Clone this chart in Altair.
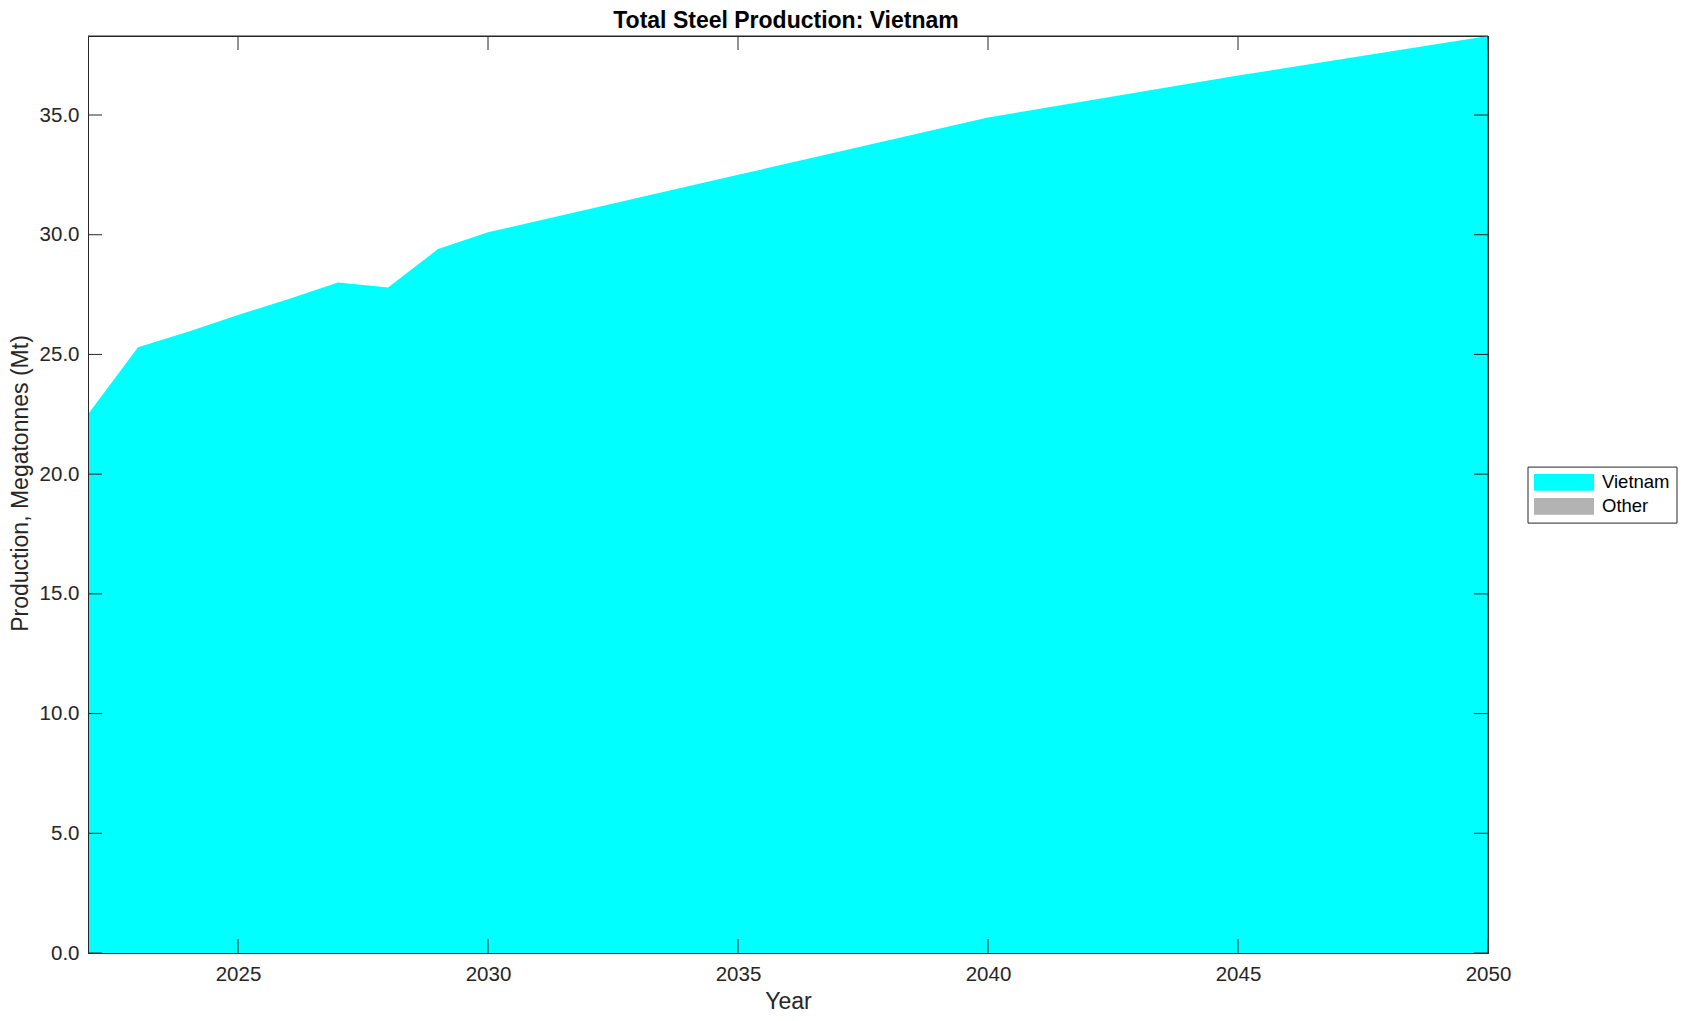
import altair as alt
import pandas as pd

# ---- data ----
years = [2022, 2023, 2024, 2025, 2026, 2027, 2028, 2029, 2030, 2035, 2040, 2045, 2050]
vietnam = [22.5, 25.3, 25.95, 26.65, 27.3, 28.0, 27.8, 29.4, 30.1, 32.5, 34.9, 36.65, 38.3]
other = [0.0] * len(years)

series = ["Vietnam", "Other"]
colors = ["#00FFFF", "#B3B3B3"]

x_ticks = [2025, 2030, 2035, 2040, 2045, 2050]
y_ticks = [0, 5, 10, 15, 20, 25, 30, 35]

x_domain = [2022, 2050]
y_domain = [0, 38.3]

chart_title = ["Total Steel Production: Vietnam"]

W, H = 1400, 917
TICK = 14
FONT = "Liberation Sans"
AX = "#262626"

rows = []
for i, y in enumerate(years):
    rows.append({"year": y, "series": "Vietnam", "value": vietnam[i], "ord": 0})
    rows.append({"year": y, "series": "Other", "value": other[i], "ord": 1})
df = pd.DataFrame(rows)
xt = pd.DataFrame({"year": x_ticks})
yt = pd.DataFrame({"v": y_ticks})
tt = pd.DataFrame({"t": chart_title})

xscale = alt.Scale(domain=x_domain, nice=False, zero=False)
yscale = alt.Scale(domain=y_domain, nice=False, zero=True)

x_axis = alt.Axis(
    values=x_ticks, format="d", ticks=False, tickSize=0, grid=False,
    domain=True, domainColor=AX, domainWidth=1, zindex=1,
    labelFontSize=20.5, labelColor=AX, labelFont=FONT, labelPadding=11,
    labelFlush=False, labelOverlap=False,
    title="Year", titleFontSize=23, titleFontWeight="normal", titleColor=AX,
    titleFont=FONT, titleY=55, titleBaseline="alphabetic",
)
y_axis = alt.Axis(
    values=y_ticks, format=".1f", ticks=False, tickSize=0, grid=False,
    domain=True, domainColor=AX, domainWidth=1, zindex=1,
    labelFontSize=20.5, labelColor=AX, labelFont=FONT, labelPadding=9,
    labelFlush=False, labelOverlap=False,
    title="Production, Megatonnes (Mt)", titleFontSize=23, titleFontWeight="normal",
    titleColor=AX, titleFont=FONT, titleX=-60.5, titleY=447, titleAngle=270,
    titleBaseline="alphabetic",
)

area = alt.Chart(df).mark_area(interpolate="linear", opacity=1).encode(
    x=alt.X("year:Q", scale=xscale, axis=x_axis),
    y=alt.Y("value:Q", stack="zero", scale=yscale, axis=y_axis),
    color=alt.Color(
        "series:N",
        scale=alt.Scale(domain=series, range=colors),
        title=None,
        legend=alt.Legend(
            orient="none", legendX=1439.5, legendY=430.6,
            symbolType="M-1,-0.28L1,-0.28L1,0.28L-1,0.28Z",
            symbolSize=3600, symbolStrokeWidth=0, symbolOpacity=1,
            clipHeight=18.5, rowPadding=5, labelOffset=8,
            labelFontSize=18.5, labelFont=FONT, labelColor="black",
            strokeColor=AX, fillColor="white", padding=6.5,
        ),
    ),
    order=alt.Order("ord:Q"),
)

tick_style = dict(color=AX, strokeWidth=1)
xb = alt.Chart(xt).mark_rule(**tick_style).encode(
    x=alt.X("year:Q", scale=xscale, axis=x_axis), y=alt.value(H), y2=alt.value(H - TICK))
xtop = alt.Chart(xt).mark_rule(**tick_style).encode(
    x=alt.X("year:Q", scale=xscale, axis=x_axis), y=alt.value(0), y2=alt.value(TICK))
yl = alt.Chart(yt).mark_rule(**tick_style).encode(
    y=alt.Y("v:Q", scale=yscale, axis=y_axis), x=alt.value(0), x2=alt.value(TICK))
yr = alt.Chart(yt).mark_rule(**tick_style).encode(
    y=alt.Y("v:Q", scale=yscale, axis=y_axis), x=alt.value(W - TICK), x2=alt.value(W))
frame_top = alt.Chart(tt).mark_rule(**tick_style).encode(
    x=alt.value(0), x2=alt.value(W), y=alt.value(0))
frame_right = alt.Chart(tt).mark_rule(**tick_style).encode(
    x=alt.value(W), y=alt.value(0), y2=alt.value(H))

title_text = alt.Chart(tt).mark_text(
    font=FONT, fontSize=23, fontWeight="bold", color="black",
    align="center", baseline="alphabetic",
).encode(x=alt.value(W / 2 - 2), y=alt.value(-8), text="t:N")

chart = alt.layer(area, xb, xtop, yl, yr, frame_top, frame_right, title_text).properties(
    width=W, height=H,
    autosize=alt.AutoSizeParams(type="none"),
    padding={"left": 80, "top": 28, "right": 196, "bottom": 60},
).configure(font=FONT).configure_view(stroke=AX, strokeWidth=1)

chart.save("out.html", embed_options={"renderer": "svg", "actions": False})
